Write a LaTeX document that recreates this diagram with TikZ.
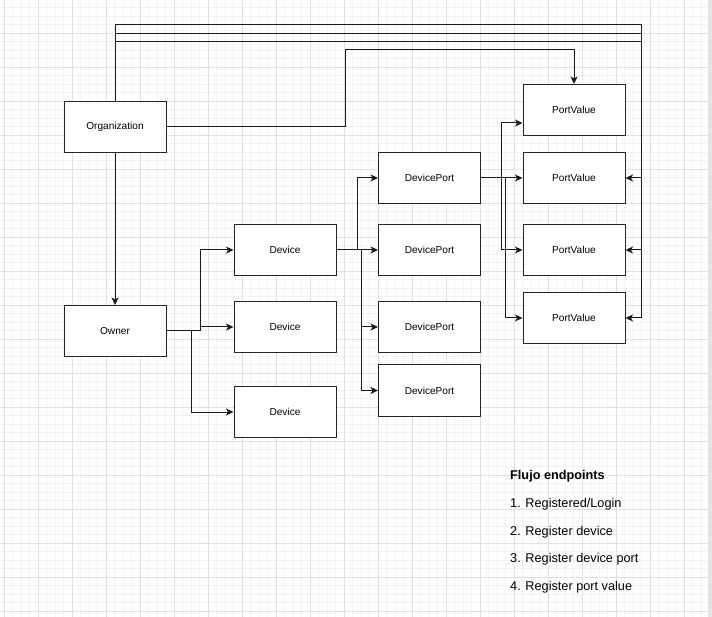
\documentclass[tikz,border=0pt]{standalone}
\usepackage{fontspec}
\setmainfont{Liberation Sans}
\usetikzlibrary{arrows.meta}
\definecolor{gridminor}{HTML}{F3F3F3}
\definecolor{gridmajor}{HTML}{E0E0E0}
\definecolor{edgegray}{HTML}{E4E4E4}
\tikzset{
  entity/.style={draw=black!85, line width=1pt, fill=white, minimum width=102pt,
    minimum height=51pt, inner sep=0pt, font=\fontsize{10.1}{12}\selectfont},
  conn/.style={draw=black!90, line width=1pt,
    -{Stealth[length=7.5pt,width=7pt,inset=2pt]}},
  legendtext/.style={anchor=base west, inner sep=0pt, font=\fontsize{12.7}{15}\selectfont},
}
\begin{document}
\begin{tikzpicture}[x=1pt,y=-1pt]
\useasboundingbox (0,0) rectangle (712,617);
\fill[white] (0,0) rectangle (712,617);
% background grid
\foreach \i in {0,...,83} {
  \draw[gridminor, line width=0.8pt] (4.3+\i*8.5,0) -- (4.3+\i*8.5,617);
}
\foreach \j in {0,...,73} {
  \draw[gridminor, line width=0.8pt] (0,-0.7+\j*8.5) -- (708,-0.7+\j*8.5);
}
\foreach \i in {0,...,20} {
  \draw[gridmajor, line width=0.9pt] (4.3+\i*34,0) -- (4.3+\i*34,617);
}
\foreach \j in {0,...,18} {
  \draw[gridmajor, line width=0.9pt] (0,-0.7+\j*34) -- (708,-0.7+\j*34);
}
\fill[edgegray] (708,0) rectangle (712,617);

% entities
\node[entity] (org)   at (115,127) {Organization};
\node[entity] (owner) at (115,331) {Owner};
\node[entity] (dev1)  at (285,250) {Device};
\node[entity] (dev2)  at (285,327) {Device};
\node[entity] (dev3)  at (285,412) {Device};
\node[entity] (dp1)   at (429.5,178) {DevicePort};
\node[entity] (dp2)   at (429.5,250) {DevicePort};
\node[entity] (dp3)   at (429.5,327) {DevicePort};
\node[entity] (dp4)   at (429.5,390.5) {DevicePort};
\node[entity] (pv1)   at (574,110) {PortValue};
\node[entity] (pv2)   at (574,178) {PortValue};
\node[entity] (pv3)   at (574,250) {PortValue};
\node[entity] (pv4)   at (574,318) {PortValue};

% organization links
\draw[conn] (org.south) -- (owner.north);
\draw[conn] (org.east) -| (345,50) -| (pv1.north);
\draw[conn] (org.north) |- (641,25) |- (pv2.east);
\draw[conn] (org.north) |- (641,33.5) |- (pv3.east);
\draw[conn] (org.north) |- (641,42) |- (pv4.east);

% owner to devices
\draw[conn] (owner.east) -- (200,331) |- (dev1.west);
\draw[conn] (owner.east) -- (200,331) |- (dev2.west);
\draw[conn] (owner.east) -- (191,331) |- (dev3.west);

% device to ports
\draw[conn] (dev1.east) -- (357,250) |- (dp1.west);
\draw[conn] (dev1.east) -- (dp2.west);
\draw[conn] (dev1.east) -- (361.5,250) |- (dp3.west);
\draw[conn] (dev1.east) -- (361.5,250) |- (dp4.west);

% port to values
\draw[conn] (dp1.east) -- (501,178) |- ([yshift=-13pt]pv1.west);
\draw[conn] (dp1.east) -- (pv2.west);
\draw[conn] (dp1.east) -- (501,178) |- (pv3.west);
\draw[conn] (dp1.east) -- (505.7,178) |- (pv4.west);

% legend
\node[legendtext, font=\fontsize{12.7}{15}\selectfont\bfseries] (legtitle) at (510,479.3) {Flujo endpoints};
\node[legendtext] (leg1) at (510,507.3) {1. Registered/Login};
\node[legendtext] (leg2) at (510,535) {2. Register device};
\node[legendtext] (leg3) at (510,562.7) {3. Register device port};
\node[legendtext] (leg4) at (510,590.3) {4. Register port value};
\end{tikzpicture}
\end{document}
